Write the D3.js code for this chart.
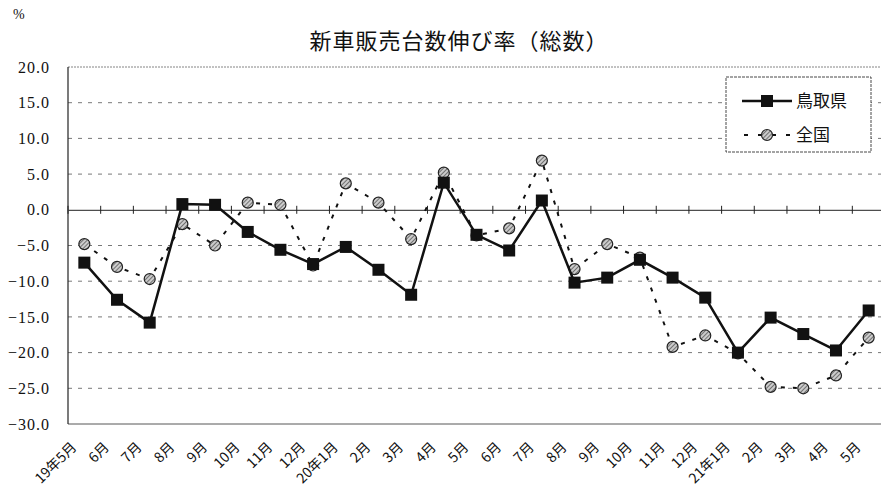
<!DOCTYPE html>
<html>
<head>
<meta charset="utf-8">
<script src="https://cdn.jsdelivr.net/npm/d3@7"></script>
<style>
  body { margin: 0; background: #fff; }
  svg { display: block; }
</style>
</head>
<body>
<div id="chart"></div>
<script>
// months along the x axis
var months = ["19年5月", "6月", "7月", "8月", "9月", "10月", "11月", "12月",
  "20年1月", "2月", "3月", "4月", "5月", "6月", "7月", "8月", "9月", "10月",
  "11月", "12月", "21年1月", "2月", "3月", "4月", "5月"];

// 鳥取県 growth rate (%)
var tottori = [-7.4, -12.6, -15.8, 0.8, 0.7, -3.1, -5.6, -7.6,
  -5.2, -8.4, -11.9, 3.8, -3.5, -5.7, 1.3, -10.2, -9.5, -7.0,
  -9.5, -12.3, -20.0, -15.1, -17.4, -19.7, -14.1];

// 全国 growth rate (%)
var national = [-4.8, -8.0, -9.7, -2.0, -5.0, 1.0, 0.7, -7.8,
  3.7, 1.0, -4.1, 5.2, -3.6, -2.6, 6.9, -8.3, -4.8, -6.7,
  -19.2, -17.6, -20.1, -24.8, -25.0, -23.2, -17.9];

var yTicks = [20, 15, 10, 5, 0, -5, -10, -15, -20, -25, -30];

var width = 881, height = 487;
var pLeft = 68, pTop = 67, pRight = 885, pBottom = 424;

var svg = d3.select('#chart').append('svg')
  .attr('width', width)
  .attr('height', height)
  .style('font-family', '"Liberation Serif", "DejaVu Serif", serif');

var defs = svg.append('defs');
var pat = defs.append('pattern')
  .attr('id', 'hatch')
  .attr('patternUnits', 'userSpaceOnUse')
  .attr('width', 3).attr('height', 3)
  .attr('patternTransform', 'rotate(45)');
pat.append('rect').attr('width', 3).attr('height', 3).attr('fill', '#ccc');
pat.append('line').attr('x1', 0).attr('y1', 0).attr('x2', 0).attr('y2', 3)
  .attr('stroke', '#333').attr('stroke-width', 1.2);

var x = d3.scaleBand().domain(d3.range(months.length)).range([pLeft, pRight]);
var y = d3.scaleLinear().domain([-30, 20]).range([pBottom, pTop]);
var cx = function(i) { return x(i) + x.bandwidth() / 2; };

// dashed grid lines
svg.append('g').selectAll('line')
  .data(yTicks.filter(function(d) { return d !== 0 && d !== 20 && d !== -30; }))
  .enter().append('line')
  .attr('x1', pLeft).attr('x2', pRight)
  .attr('y1', function(d) { return y(d); }).attr('y2', function(d) { return y(d); })
  .attr('stroke', '#555').attr('stroke-width', 0.8)
  .attr('stroke-dasharray', '4,6');

// plot frame
svg.append('line').attr('x1', pLeft).attr('x2', pRight)
  .attr('y1', y(20)).attr('y2', y(20))
  .attr('stroke', '#666').attr('stroke-width', 0.8).attr('stroke-dasharray', '2,1');
svg.append('line').attr('x1', pLeft).attr('x2', pRight)
  .attr('y1', y(-30)).attr('y2', y(-30))
  .attr('stroke', '#444').attr('stroke-width', 0.9);
svg.append('line').attr('x1', pLeft).attr('x2', pLeft)
  .attr('y1', y(20)).attr('y2', y(-30))
  .attr('stroke', '#222').attr('stroke-width', 1.2);

// y axis labels
var yAxis = d3.axisLeft(y).tickValues(yTicks)
  .tickFormat(function(d) { return d3.format('.1f')(d).replace('-', '\u2212'); })
  .tickSize(0).tickPadding(18);
svg.append('g').attr('transform', 'translate(' + pLeft + ',0)')
  .call(yAxis)
  .call(function(g) {
    g.select('.domain').remove();
    g.attr('font-family', null).attr('font-size', null);
    g.selectAll('text')
      .style('font-family', '"Liberation Serif", "DejaVu Serif", serif')
      .style('font-size', '16px')
      .style('letter-spacing', '1px')
      .attr('fill', '#111');
  });

// zero line with category ticks
var xAxis = d3.axisBottom(x).tickValues([]).tickSizeOuter(0);
svg.append('g').attr('transform', 'translate(0,' + y(0) + ')')
  .call(xAxis)
  .call(function(g) {
    g.select('.domain').attr('stroke', '#222').attr('stroke-width', 1);
  });
svg.append('g').selectAll('line')
  .data(d3.range(months.length + 1))
  .enter().append('line')
  .attr('x1', function(i) { return pLeft + i * x.step(); })
  .attr('x2', function(i) { return pLeft + i * x.step(); })
  .attr('y1', y(0) - 4).attr('y2', y(0) + 4)
  .attr('stroke', '#222').attr('stroke-width', 1);

// x labels
svg.append('g').selectAll('text')
  .data(months)
  .enter().append('text')
  .attr('transform', function(d, i) {
    return 'translate(' + (cx(i) - 7) + ',' + (pBottom + 24) + ') rotate(-45)';
  })
  .attr('text-anchor', 'end')
  .style('font-family', '"Noto Sans CJK JP", sans-serif')
  .style('font-size', '14px')
  .attr('fill', '#111')
  .text(function(d) { return d; });

// 全国 series
var line = d3.line()
  .x(function(d, i) { return cx(i); })
  .y(function(d) { return y(d); });

svg.append('path').datum(national)
  .attr('d', line)
  .attr('fill', 'none')
  .attr('stroke', '#111').attr('stroke-width', 2)
  .attr('stroke-dasharray', '4,8');

svg.append('g').selectAll('circle')
  .data(national)
  .enter().append('circle')
  .attr('cx', function(d, i) { return cx(i); })
  .attr('cy', function(d) { return y(d); })
  .attr('r', 5.5)
  .attr('fill', 'url(#hatch)')
  .attr('stroke', '#222').attr('stroke-width', 1.2);

// 鳥取県 series
svg.append('path').datum(tottori)
  .attr('d', line)
  .attr('fill', 'none')
  .attr('stroke', '#111').attr('stroke-width', 2.5);

svg.append('g').selectAll('rect')
  .data(tottori)
  .enter().append('rect')
  .attr('x', function(d, i) { return cx(i) - 6; })
  .attr('y', function(d) { return y(d) - 6; })
  .attr('width', 12).attr('height', 12)
  .attr('fill', '#111');

// title and unit
svg.append('text')
  .attr('x', 459).attr('y', 49)
  .attr('text-anchor', 'middle')
  .style('font-family', '"Noto Sans CJK JP", sans-serif')
  .style('font-size', '22px')
  .style('letter-spacing', '1px')
  .attr('fill', '#111')
  .text('新車販売台数伸び率（総数）');

svg.append('text')
  .attr('x', 13).attr('y', 19)
  .style('font-size', '14px')
  .attr('fill', '#111')
  .text('%');

// legend
var lg = svg.append('g').attr('transform', 'translate(726,77)');
lg.append('rect').attr('width', 145).attr('height', 75)
  .attr('fill', '#fff').attr('stroke', '#333').attr('stroke-width', 0.9)
  .attr('stroke-dasharray', '3,1');
lg.append('line').attr('x1', 16).attr('x2', 66).attr('y1', 24).attr('y2', 24)
  .attr('stroke', '#111').attr('stroke-width', 2.5);
lg.append('rect').attr('x', 35).attr('y', 18).attr('width', 12).attr('height', 12)
  .attr('fill', '#111');
lg.append('text').attr('x', 70).attr('y', 30)
  .style('font-family', '"Noto Sans CJK JP", sans-serif')
  .style('font-size', '17px').attr('fill', '#111').text('鳥取県');
lg.append('line').attr('x1', 18).attr('x2', 66).attr('y1', 58).attr('y2', 58)
  .attr('stroke', '#111').attr('stroke-width', 2)
  .attr('stroke-dasharray', '4,10');
lg.append('circle').attr('cx', 41).attr('cy', 58).attr('r', 5.5)
  .attr('fill', 'url(#hatch)').attr('stroke', '#222').attr('stroke-width', 1.2);
lg.append('text').attr('x', 70).attr('y', 64)
  .style('font-family', '"Noto Sans CJK JP", sans-serif')
  .style('font-size', '17px').attr('fill', '#111').text('全国');
</script>
</body>
</html>
